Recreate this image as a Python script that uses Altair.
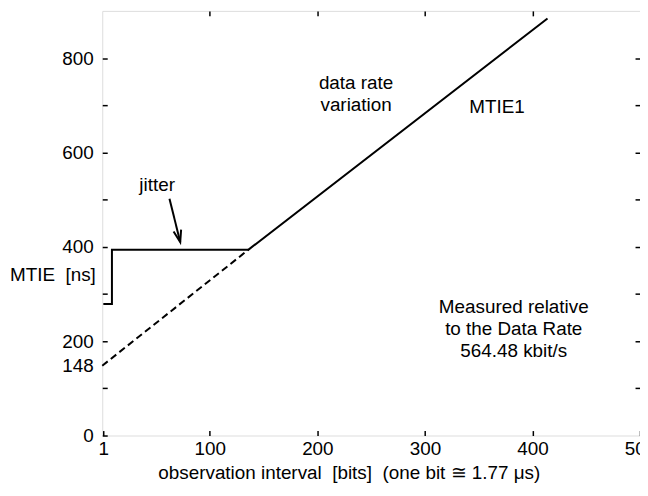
import altair as alt
import pandas as pd

# ---- data ----
solid_x = [1, 9, 9, 136, 414]
solid_y = [279, 279, 394, 394, 884]
dashed_x = [0, 136]
dashed_y = [148, 394]
arrow_x = [62.5, 72.5]
arrow_y = [502, 410]
x_ticks = [1, 100, 200, 300, 400, 500]
y_ticks = [0, 100, 148, 200, 300, 400, 500, 600, 700, 800]
x_minor = [100, 200, 300, 400]
y_minor = [100, 200, 300, 400, 500, 600, 700, 800]

texts_center = ["data rate\nvariation", "Measured relative\nto the Data Rate\n564.48 kbit/s", "jitter", "MTIE1"]
texts_x = [236, 382.6, 51, 367]
texts_y = [735, 260, 518, 683]

FONT = "Liberation Sans"
FS = 19

solid = pd.DataFrame({"x": solid_x, "y": solid_y, "i": range(len(solid_x))})
dashed = pd.DataFrame({"x": dashed_x, "y": dashed_y})
arrow = pd.DataFrame({"x": arrow_x, "y": arrow_y, "i": [0, 1]})
tip = arrow.iloc[[1]]
labels = pd.DataFrame({"x": texts_x, "y": texts_y, "t": texts_center})

xs = alt.Scale(domain=[0, 500], nice=False, zero=False)
ys = alt.Scale(domain=[0, 900], nice=False, zero=False)

x_axis = alt.Axis(
    values=x_ticks, title="observation interval\u00a0 [bits]\u00a0 (one bit \u2245 1.77 \u03bcs)",
    domain=False, grid=False, offset=-5, tickSize=5, tickWidth=1.5, tickColor="black",
    labelPadding=4, labelFontSize=FS, labelColor="black", labelFlush=False, labelOverlap=False,
    titleFontSize=FS, titleFontWeight="normal", titleColor="black",
    titleX=248.5, titleY=48, titleBaseline="alphabetic", titleAlign="center", titleAnchor="start",
)
y_axis = alt.Axis(
    values=y_ticks, title="MTIE\u00a0 [ns]",
    labelExpr="datum.value == 148 || datum.value % 200 == 0 ? datum.label : ''",
    domain=False, grid=False, offset=-5, tickSize=5, tickWidth=1.5,
    tickColor={"condition": {"test": "datum.value == 148", "value": "transparent"}, "value": "black"},
    labelPadding=9, labelFontSize=FS, labelColor="black", labelOverlap=False, labelFlush=False,
    titleFontSize=FS, titleFontWeight="normal", titleColor="black", titleAngle=0,
    titleAlign="right", titleBaseline="alphabetic", titleX=-12, titleY=272, titleAnchor="start",
)

main = alt.Chart(solid).mark_line(color="black", strokeWidth=2).encode(
    x=alt.X("x:Q", scale=xs, axis=x_axis),
    y=alt.Y("y:Q", scale=ys, axis=y_axis),
    order="i:Q",
)

dash = alt.Chart(dashed).mark_line(color="black", strokeWidth=2, strokeDash=[7, 4]).encode(
    x=alt.X("x:Q", scale=xs, axis=None),
    y=alt.Y("y:Q", scale=ys, axis=None),
)

mirror = alt.Chart(dashed).mark_line(opacity=0).encode(
    x=alt.X("x:Q", scale=xs, axis=alt.Axis(orient="top", values=x_minor, labels=False, title=None,
                                           domain=False, grid=False, offset=-5, tickSize=5,
                                           tickWidth=1.5, tickColor="black")),
    y=alt.Y("y:Q", scale=ys, axis=alt.Axis(orient="right", values=y_minor, labels=False, title=None,
                                           domain=False, grid=False, offset=-5, tickSize=5,
                                           tickWidth=1.5, tickColor="black")),
)

shaft = alt.Chart(arrow).mark_line(color="black", strokeWidth=2).encode(
    x=alt.X("x:Q", scale=xs, axis=None),
    y=alt.Y("y:Q", scale=ys, axis=None),
    order="i:Q",
)
head = alt.Chart(tip).mark_point(
    shape="M -0.65 -2 L 0 0 L 0.65 -2", filled=False, stroke="black", strokeWidth=2,
    size=144, angle=346, opacity=1,
).encode(
    x=alt.X("x:Q", scale=xs, axis=None),
    y=alt.Y("y:Q", scale=ys, axis=None),
)

txt = alt.Chart(labels).mark_text(
    font=FONT, fontSize=FS, color="black", align="center", baseline="alphabetic",
    lineBreak="\n", lineHeight=22.5,
).encode(
    x=alt.X("x:Q", scale=xs, axis=None),
    y=alt.Y("y:Q", scale=ys, axis=None),
    text="t:N",
)

chart = alt.layer(main, dash, mirror, shaft, head, txt).resolve_axis(
    x="independent", y="independent"
).properties(
    width=542, height=428,
    autosize=alt.AutoSizeParams(type="none"),
    padding={"left": 95, "top": 1, "right": 0, "bottom": 55},
).configure_view(
    stroke="black", strokeWidth=1.5
).configure_axis(
    labelFont=FONT, titleFont=FONT
).configure(background="white")

chart.save("out.html", embed_options={"renderer": "svg", "actions": False})
